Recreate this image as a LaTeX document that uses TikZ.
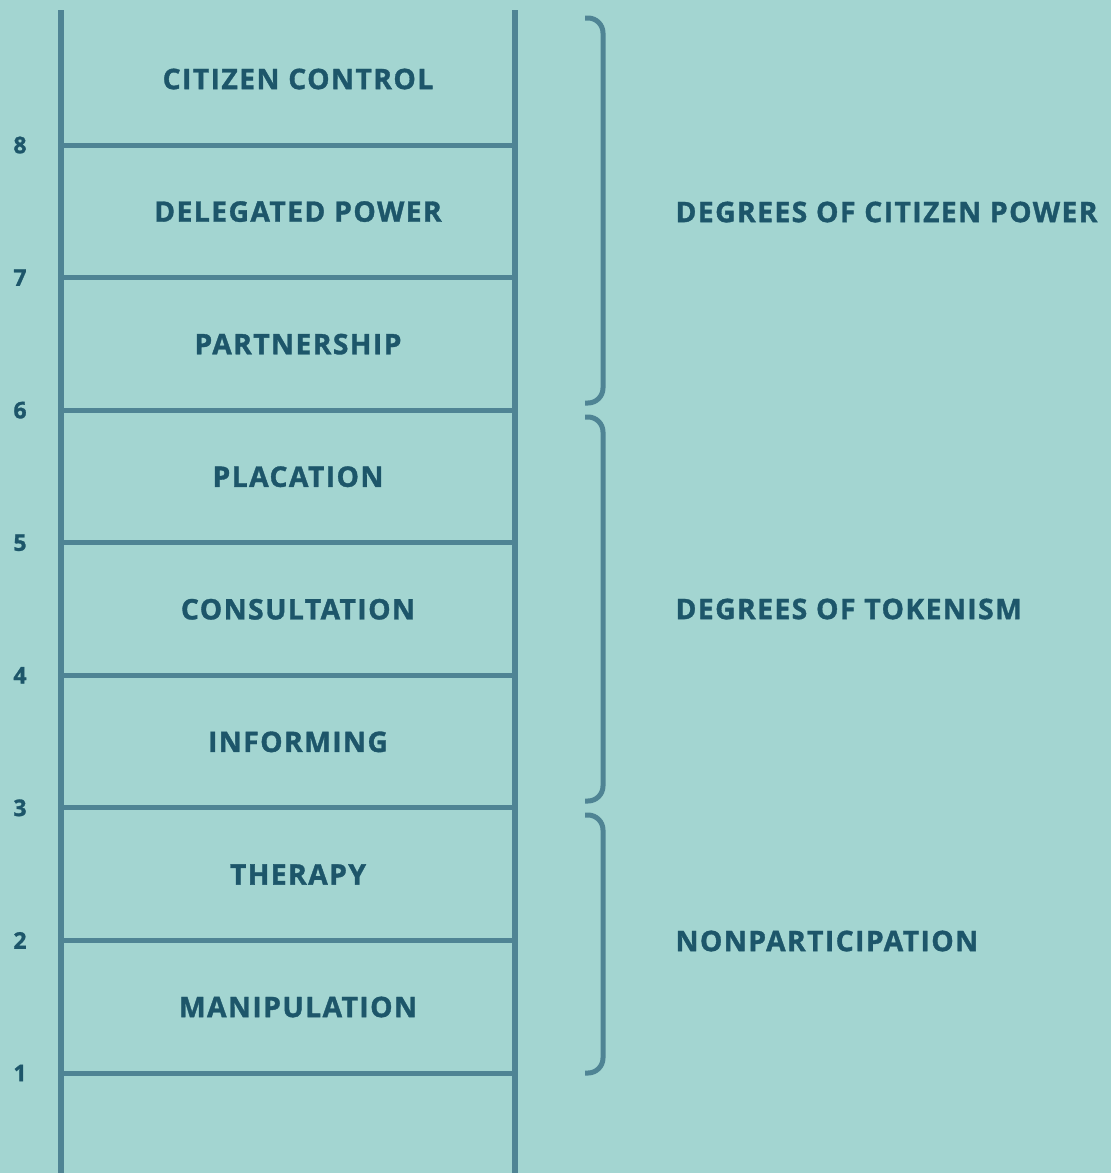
\documentclass[tikz,border=0pt]{standalone}
\usepackage{fontspec}
\setmainfont{Open Sans}
\newfontfamily\ladderfont{Open Sans}[BoldFeatures={LetterSpace=5,FakeBold=1.2}]
\usetikzlibrary{calc}

\definecolor{ladderbg}{HTML}{A3D5D1}
\definecolor{ladderline}{HTML}{4F8494}
\definecolor{laddertext}{HTML}{1D566A}

% bracket with curled ends: x of the spine, top y, bottom y
\newcommand{\rungbracket}[3]{
    \draw[bracket] (#1-18,#2) -- (#1,#2) -- (#1,#3) -- (#1-18,#3);
}

\begin{document}
\begin{tikzpicture}[x=1pt,y=-1pt,
    rail/.style={line width=6.5pt,ladderline},
    rung/.style={line width=5pt,ladderline},
    bracket/.style={line width=5pt,ladderline,rounded corners=15pt},
    steplabel/.style={font=\ladderfont\bfseries\fontsize{28.3}{29}\selectfont,text=laddertext},
    stepnum/.style={font=\ladderfont\bfseries\fontsize{23}{24}\selectfont,text=laddertext},
    grouplabel/.style={font=\ladderfont\bfseries\fontsize{28.3}{29}\selectfont,text=laddertext,anchor=west}]
    \fill[ladderbg] (0,0) rectangle (1111,1173);
    \useasboundingbox (0,0) rectangle (1111,1173);

    % rails
    \coordinate (railtopl) at (61,10);
    \coordinate (railbotl) at (61,1173);
    \coordinate (railtopr) at (515,10);
    \coordinate (railbotr) at (515,1173);
    \draw[rail] (railtopl) -- (railbotl);
    \draw[rail] (railtopr) -- (railbotr);

    % rungs and their numbers
    \foreach[evaluate={\y=1073-(\i-1)*132.57}] \i in {1,...,8} {
        \coordinate (l\i) at (61,\y);
        \coordinate (r\i) at (515,\y);
        \draw[rung] (l\i) -- (r\i);
        \node[stepnum] (n\i) at (20,\y) {\i};
    }

    % names of the steps
    \foreach[count=\i,evaluate={\y=1073-(\i-1)*132.57-66}] \lab in
        {MANIPULATION,THERAPY,INFORMING,CONSULTATION,PLACATION,
         PARTNERSHIP,DELEGATED POWER,CITIZEN CONTROL} {
        \node[steplabel] (s\i) at (298,\y) {\lab};
    }

    % groups
    \rungbracket{603}{18}{403}
    \rungbracket{603}{417}{801}
    \rungbracket{603}{815}{1073}
    \node[grouplabel] (power) at (672,212) {DEGREES OF CITIZEN POWER};
    \node[grouplabel] (token) at (672,609) {DEGREES OF TOKENISM};
    \node[grouplabel] (nonpart) at (672,941) {NONPARTICIPATION};
\end{tikzpicture}
\end{document}
